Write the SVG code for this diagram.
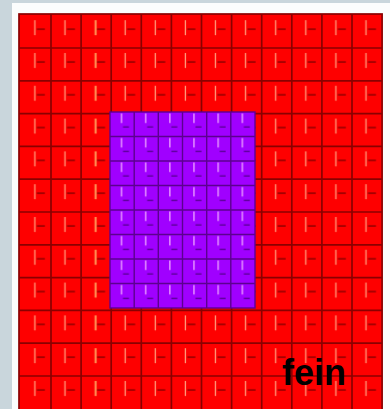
<svg xmlns="http://www.w3.org/2000/svg" width="390" height="409" viewBox="0 0 390 409">
  <defs>
    <style>
      .grid { fill: none; stroke: #8a0000; stroke-width: 1.7; }
      .fine { fill: none; stroke: #5c0090; stroke-width: 1.4; }
      .label { font-family: "Liberation Sans", Arial, sans-serif; font-weight: bold; font-size: 36px; fill: #000; }
    </style>
    <pattern id="coarseMark" patternUnits="userSpaceOnUse" x="20.9" y="15.2" width="30.1" height="32.8">
      <line x1="14" y1="5" x2="14" y2="20" stroke="#ff9a7a" stroke-width="1.3"/>
      <line x1="16" y1="14" x2="24" y2="14" stroke="#980000" stroke-width="1.6"/>
    </pattern>
    <pattern id="coarseMarkOrange" patternUnits="userSpaceOnUse" x="20.9" y="15.2" width="30.1" height="32.8">
      <line x1="14.5" y1="5" x2="14.5" y2="20" stroke="#ff8a50" stroke-width="2.2"/>
      <line x1="16" y1="14" x2="24" y2="14" stroke="#980000" stroke-width="1.6"/>
    </pattern>
    <pattern id="fineMark" patternUnits="userSpaceOnUse" x="110" y="112" width="24.17" height="24.5">
      <line x1="11.5" y1="1.5" x2="11.5" y2="11" stroke="#f0a8ff" stroke-width="1.3"/>
      <line x1="13" y1="15" x2="19" y2="15" stroke="#5a0096" stroke-width="1.4"/>
    </pattern>
  </defs>

  <rect x="0" y="0" width="390" height="409" fill="#c9d6dc"/>
  <rect x="12" y="3" width="378" height="406" fill="#fbfdfd"/>

  <g id="coarse-mesh">
    <rect x="19" y="14" width="363.1" height="395" fill="#fe0000"/>
    <rect x="19" y="14" width="363.1" height="395" fill="url(#coarseMark)"/>
    <rect x="81.1" y="14" width="30.1" height="395" fill="#fe0000"/>
    <rect x="81.1" y="14" width="30.1" height="395" fill="url(#coarseMarkOrange)"/>
    <path class="grid" d="M51,14V409 M81.1,14V409 M111.2,14V409 M141.3,14V409 M171.4,14V409 M201.5,14V409 M231.6,14V409 M261.7,14V409 M291.8,14V409 M321.9,14V409 M352,14V409
      M19,48H382.1 M19,80.8H382.1 M19,113.6H382.1 M19,146.4H382.1 M19,179.2H382.1 M19,212H382.1 M19,244.8H382.1 M19,277.6H382.1 M19,310.4H382.1 M19,343.2H382.1 M19,376H382.1"/>
    <rect class="grid" x="19" y="14" width="363.1" height="396"/>
  </g>

  <g id="fine-mesh">
    <rect x="110" y="112" width="145" height="196" fill="#a000ff"/>
    <rect x="110" y="112" width="145" height="196" fill="url(#fineMark)"/>
    <path class="fine" d="M134.2,112V308 M158.3,112V308 M182.5,112V308 M206.7,112V308 M230.8,112V308
      M110,136.5H255 M110,161H255 M110,185.5H255 M110,210H255 M110,234.5H255 M110,259H255 M110,283.5H255"/>
    <rect class="fine" x="110" y="112" width="145" height="196"/>
  </g>

  <g id="label-fein">
    <text class="label" x="282" y="385">fein</text>
  </g>
</svg>
